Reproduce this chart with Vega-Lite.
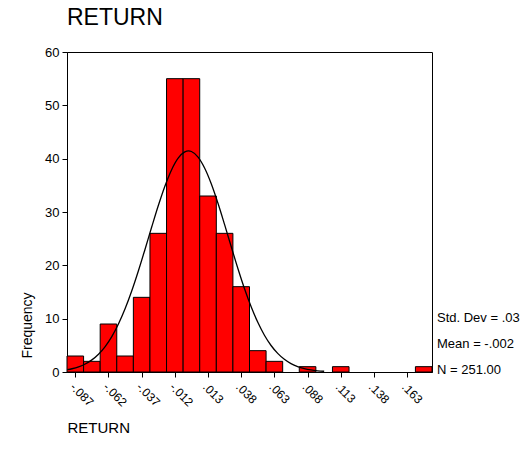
{
  "$schema": "https://vega.github.io/schema/vega-lite/v6.json",
  "autosize": "none",
  "width": 365,
  "height": 320,
  "padding": {"left": 67, "top": 52, "right": 93, "bottom": 82},
  "background": "white",
  "config": {
    "font": "Liberation Sans",
    "view": {"stroke": "black", "strokeWidth": 1},
    "axis": {"grid": false, "domainColor": "black", "tickColor": "black", "labelColor": "black", "titleColor": "black", "labelFont": "Liberation Sans", "titleFont": "Liberation Sans", "titleFontWeight": "normal", "labelFontSize": 12, "tickSize": 5, "labelOverlap": false},
    "legend": {"labelFont": "Liberation Sans"}
  },
  "title": {"text": "RETURN", "anchor": "start", "frame": "group", "fontSize": 23, "fontWeight": "normal", "font": "Liberation Sans", "color": "black", "offset": 16},
  "encoding": {
    "x": {"type": "quantitative",
      "scale": {"domain": [-0.09375, 0.18125], "nice": false, "zero": false},
      "axis": {"values": [-0.0875, -0.0625, -0.0375, -0.0125, 0.0125, 0.0375, 0.0625, 0.0875, 0.1125, 0.1375, 0.1625],
        "labelExpr": "['-.087','-.062','-.037','-.012','.013','.038','.063','.088','.113','.138','.163'][round((datum.value + 0.0875) / 0.025)]",
        "labelAngle": 45, "labelAlign": "left", "labelBaseline": "top", "labelPadding": 4, "labelOverlap": false, "labelBound": false,
        "title": "RETURN", "titleFontSize": 15, "titleX": 0, "titleY": 55, "titleAlign": "left", "titleBaseline": "middle", "titleAnchor": "start"}},
    "y": {"type": "quantitative",
      "scale": {"domain": [0, 60], "nice": false},
      "axis": {"values": [0, 10, 20, 30, 40, 50, 60], "labelFontSize": 13, "labelPadding": 3,
        "title": "Frequency", "titleFontSize": 14, "titleX": -40, "titleY": 273, "titleAngle": -90, "titleAlign": "center", "titleBaseline": "middle"}}
  },
  "layer": [
    {
      "data": {"values": [
        {"lo": -0.09375, "hi": -0.08125, "count": 3},
        {"lo": -0.08125, "hi": -0.06875, "count": 2},
        {"lo": -0.06875, "hi": -0.05625, "count": 9},
        {"lo": -0.05625, "hi": -0.04375, "count": 3},
        {"lo": -0.04375, "hi": -0.03125, "count": 14},
        {"lo": -0.03125, "hi": -0.01875, "count": 26},
        {"lo": -0.01875, "hi": -0.00625, "count": 55},
        {"lo": -0.00625, "hi": 0.00625, "count": 55},
        {"lo": 0.00625, "hi": 0.01875, "count": 33},
        {"lo": 0.01875, "hi": 0.03125, "count": 26},
        {"lo": 0.03125, "hi": 0.04375, "count": 16},
        {"lo": 0.04375, "hi": 0.05625, "count": 4},
        {"lo": 0.05625, "hi": 0.06875, "count": 2},
        {"lo": 0.06875, "hi": 0.08125, "count": 0},
        {"lo": 0.08125, "hi": 0.09375, "count": 1},
        {"lo": 0.09375, "hi": 0.10625, "count": 0},
        {"lo": 0.10625, "hi": 0.11875, "count": 1},
        {"lo": 0.11875, "hi": 0.13125, "count": 0},
        {"lo": 0.13125, "hi": 0.14375, "count": 0},
        {"lo": 0.14375, "hi": 0.15625, "count": 0},
        {"lo": 0.15625, "hi": 0.16875, "count": 0},
        {"lo": 0.16875, "hi": 0.18125, "count": 1}
      ]},
      "transform": [{"filter": "datum.count > 0"}],
      "mark": {"type": "bar", "fill": "#ff0000", "stroke": "#000000", "strokeWidth": 1},
      "encoding": {
        "x": {"field": "lo", "type": "quantitative"},
        "x2": {"field": "hi"},
        "y": {"field": "count", "type": "quantitative"},
        "y2": {"datum": 0}
      }
    },
    {
      "data": {"values": [
        {"x": -0.0935, "f": 0.43}, {"x": -0.09, "f": 0.61}, {"x": -0.085, "f": 0.97}, {"x": -0.08, "f": 1.50},
        {"x": -0.075, "f": 2.27}, {"x": -0.07, "f": 3.33}, {"x": -0.065, "f": 4.77}, {"x": -0.06, "f": 6.64},
        {"x": -0.055, "f": 8.99}, {"x": -0.05, "f": 11.84}, {"x": -0.045, "f": 15.19}, {"x": -0.04, "f": 18.94},
        {"x": -0.035, "f": 22.98}, {"x": -0.03, "f": 27.13}, {"x": -0.025, "f": 31.17}, {"x": -0.02, "f": 34.84},
        {"x": -0.015, "f": 37.89}, {"x": -0.01, "f": 40.09}, {"x": -0.005, "f": 41.27}, {"x": -0.0022, "f": 41.45},
        {"x": 0.0, "f": 41.34}, {"x": 0.005, "f": 40.29}, {"x": 0.01, "f": 38.20}, {"x": 0.015, "f": 35.25},
        {"x": 0.02, "f": 31.64}, {"x": 0.025, "f": 27.63}, {"x": 0.03, "f": 23.48}, {"x": 0.035, "f": 19.41},
        {"x": 0.04, "f": 15.61}, {"x": 0.045, "f": 12.22}, {"x": 0.05, "f": 9.31}, {"x": 0.055, "f": 6.89},
        {"x": 0.06, "f": 4.97}, {"x": 0.065, "f": 3.49}, {"x": 0.07, "f": 2.38}, {"x": 0.075, "f": 1.58},
        {"x": 0.08, "f": 1.02}, {"x": 0.085, "f": 0.64}, {"x": 0.09, "f": 0.39}, {"x": 0.095, "f": 0.23},
        {"x": 0.1, "f": 0.14}
      ]},
      "mark": {"type": "line", "color": "black", "strokeWidth": 1.3, "interpolate": "monotone"},
      "encoding": {
        "x": {"field": "x", "type": "quantitative"},
        "y": {"field": "f", "type": "quantitative"}
      }
    },
    {
      "data": {"values": [
        {"stat": "Std. Dev = .03"},
        {"stat": "Mean = -.002"},
        {"stat": "N = 251.00"}
      ]},
      "mark": {"type": "point", "opacity": 0},
      "encoding": {
        "x": null,
        "y": null,
        "color": {"field": "stat", "type": "nominal",
          "scale": {"domain": ["Std. Dev = .03", "Mean = -.002", "N = 251.00"], "range": ["white", "white", "white"]},
          "legend": {"orient": "none", "legendX": 357, "legendY": 259, "title": null, "symbolSize": 0, "symbolOpacity": 0, "symbolStrokeWidth": 0, "labelOffset": 0, "labelFontSize": 13, "labelColor": "black", "rowPadding": 12, "padding": 0, "labelLimit": 200}}
      }
    }
  ]
}
